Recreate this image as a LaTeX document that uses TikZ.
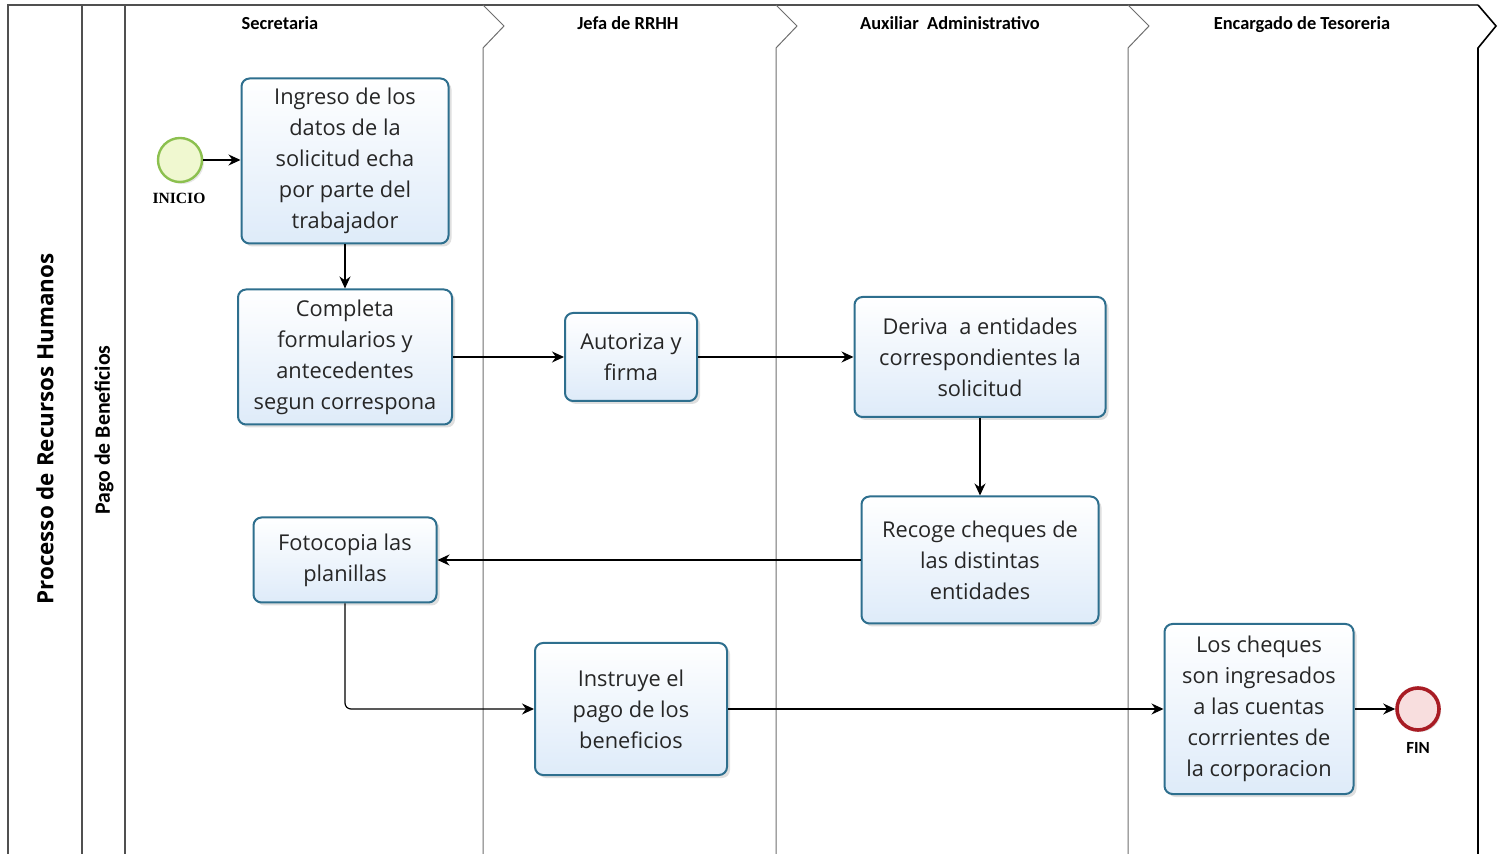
\documentclass[tikz,border=0pt]{standalone}
\usepackage{fontspec}
\setmainfont{Open Sans}
\newfontfamily\hdrfont{Carlito}
\newfontfamily\evfont{Liberation Serif}
\usetikzlibrary{shadows, arrows, arrows.meta, shapes, positioning}

\definecolor{taskborder}{RGB}{46,111,142}
\definecolor{taskfill}{RGB}{222,235,249}
\definecolor{startborder}{RGB}{140,192,79}
\definecolor{startfill}{RGB}{240,248,208}
\definecolor{endborder}{RGB}{168,28,36}
\definecolor{endfill}{RGB}{248,222,222}
\definecolor{poolline}{RGB}{80,80,80}
\definecolor{laneline}{RGB}{110,110,110}

\tikzset{
  task/.style={draw=taskborder, line width=1pt, rounded corners=4pt,
    top color=white, bottom color=taskfill,
    drop shadow={opacity=0.25, shadow xshift=1.5pt, shadow yshift=-1.5pt},
    align=center, inner sep=0pt, text=black!85,
    font=\fontsize{10.9}{15.5}\selectfont},
  startev/.style={circle, draw=startborder, line width=1.2pt, fill=startfill,
    minimum size=22pt, inner sep=0pt,
    drop shadow={opacity=0.2, shadow xshift=1pt, shadow yshift=-1pt}},
  endev/.style={circle, draw=endborder, line width=1.8pt, fill=endfill,
    minimum size=21pt, inner sep=0pt,
    drop shadow={opacity=0.2, shadow xshift=1pt, shadow yshift=-1pt}},
  evlabel/.style={font=\evfont\bfseries\fontsize{7.8}{9}\selectfont},
  lanehdr/.style={font=\hdrfont\bfseries\fontsize{9.2}{11}\selectfont,
    text height=6.5pt, text depth=2pt},
  poolhdr/.style={rotate=90, font=\bfseries\fontsize{11.2}{13}\selectfont},
  frame/.style={draw=poolline, line width=0.8pt},
  lane/.style={draw=laneline, line width=0.5pt},
  flow/.style={-{Stealth[length=6pt, width=5.5pt]}, line width=0.6pt}
}

\begin{document}
\begin{tikzpicture}[x=0.5pt, y=-0.5pt]
\useasboundingbox (0,0) rectangle (1498,854);

\draw[frame] (8,854) -- (8,5) -- (1478,5);
\draw[frame] (82,5) -- (82,854);
\draw[frame] (125,5) -- (125,854);
\foreach \x in {483,776,1128}
  \draw[lane] (\x,5) -- (\x+21,26) -- (\x,48) -- (\x,854);
\draw[frame, draw=black] (1478,5) -- (1496,26) -- (1478,48) -- (1478,854);

\path (45,429) node[poolhdr] (pool) {Processo de Recursos Humanos};
\path (104,430) node[poolhdr, font=\hdrfont\bfseries\fontsize{10.9}{13}\selectfont] (lane-pago) {Pago de Beneficios};

\path (280,25) node[lanehdr] (h-sec) {Secretaria};
\path (628,25) node[lanehdr] (h-jefa) {Jefa de RRHH};
\path (950,25) node[lanehdr] (h-aux) {Auxiliar\ \ Administrativo};
\path (1302,25) node[lanehdr] (h-tes) {Encargado de Tesoreria};

\path (180,160) node[startev] (inicio) {};
\path (179,198) node[evlabel] (lbl-inicio) {INICIO};

\path (345,161) node[task, minimum width=103.5pt, minimum height=82.5pt] (t-ingreso)
  {Ingreso de los\\datos de la\\solicitud echa\\por parte del\\trabajador};
\path (345,357) node[task, minimum width=107pt, minimum height=67.5pt] (t-completa)
  {Completa\\formularios y\\antecedentes\\segun correspona};
\path (631,357) node[task, minimum width=66pt, minimum height=44pt] (t-autoriza)
  {Autoriza y\\firma};
\path (980,357) node[task, minimum width=125.5pt, minimum height=60pt] (t-deriva)
  {Deriva\ \ a entidades\\correspondientes la\\solicitud};
\path (980,560) node[task, minimum width=118.5pt, minimum height=63.5pt] (t-recoge)
  {Recoge cheques de\\las distintas\\entidades};
\path (345,560) node[task, minimum width=91.5pt, minimum height=42.5pt] (t-fotocopia)
  {Fotocopia las\\planillas};
\path (631,709) node[task, minimum width=96pt, minimum height=66pt] (t-instruye)
  {Instruye el\\pago de los\\beneficios};
\path (1259,709) node[task, minimum width=94.5pt, minimum height=85pt] (t-cheques)
  {Los cheques\\son ingresados\\a las cuentas\\corrrientes de\\la corporacion};

\path (1418,709) node[endev] (fin) {};
\path (1418,748) node[evlabel, font=\hdrfont\bfseries\fontsize{8.5}{10}\selectfont] (lbl-fin) {FIN};

\draw[flow] (inicio) -- (inicio -| t-ingreso.west);
\draw[flow] (t-ingreso) -- (t-completa);
\draw[flow] (t-completa) -- (t-autoriza);
\draw[flow] (t-autoriza) -- (t-deriva);
\draw[flow] (t-deriva) -- (t-recoge);
\draw[flow] (t-recoge) -- (t-fotocopia);
\draw[flow, rounded corners=3pt] (t-fotocopia.south) |- (t-instruye.west);
\draw[flow] (t-instruye) -- (t-cheques);
\draw[flow] (t-cheques) -- (fin);
\end{tikzpicture}
\end{document}
